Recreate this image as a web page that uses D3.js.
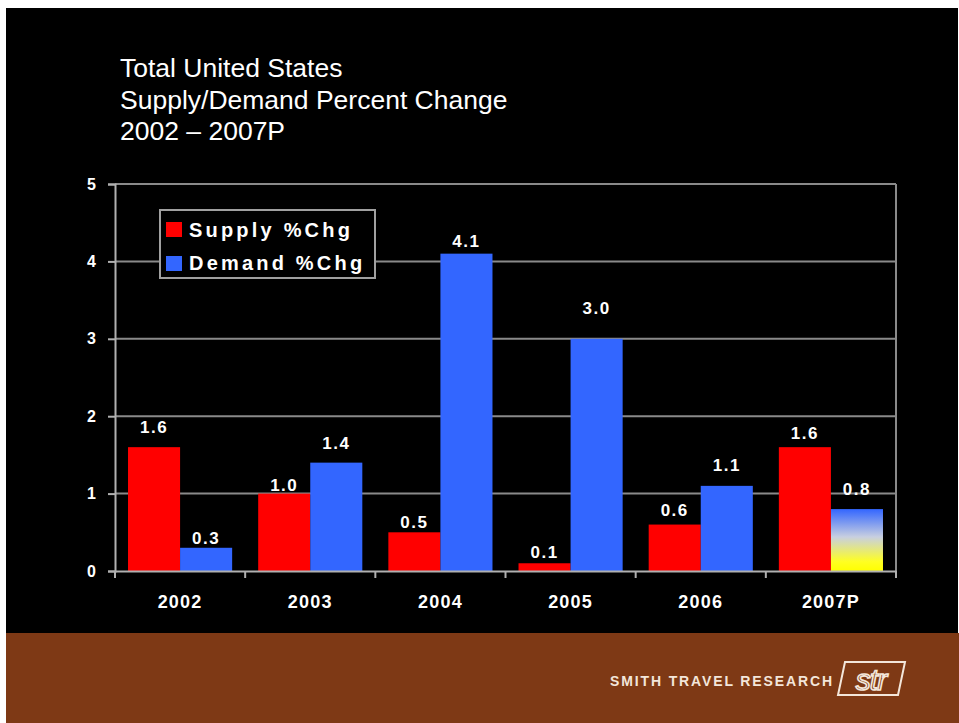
<!DOCTYPE html>
<html>
<head>
<meta charset="utf-8">
<script src="https://cdn.jsdelivr.net/npm/d3@7"></script>
<style>
html,body{margin:0;padding:0;background:#fff;}
svg{display:block;}
text{font-family:"Liberation Sans", Arial, sans-serif;}
</style>
</head>
<body>
<svg id="chart" width="959" height="723"></svg>
<script>
// ---- data ----
const categories = ["2002", "2003", "2004", "2005", "2006", "2007P"];
const supplyValues = [1.6, 1.0, 0.5, 0.1, 0.6, 1.6];
const demandValues = [0.3, 1.4, 4.1, 3.0, 1.1, 0.8];
const seriesNames = ["Supply %Chg", "Demand %Chg"];
const yTicks = [0, 1, 2, 3, 4, 5];
const titleLines = ["Total United States", "Supply/Demand Percent Change", "2002 \u2013 2007P"];

// ---- layout / style ----
const W = 959, H = 723;
const plot = {left: 115, right: 896, top: 184, bottom: 571};
const colors = ["#ff0000", "#3366ff"];
// per-label vertical nudges (px above the bar top, matches hand-placed labels)
const labelGap = [[12, 1, 3, 4, 7, 6], [2, 12, 5, 23, 13, 12]];

const svg = d3.select("#chart");

// backgrounds
svg.append("rect").attr("x", 6).attr("y", 8).attr("width", W - 7).attr("height", 625).attr("fill", "#000");
svg.append("rect").attr("x", 6).attr("y", 633).attr("width", W - 6).attr("height", H - 633).attr("fill", "#7e3915");

// gradient for projected bar
const defs = svg.append("defs");
const grad = defs.append("linearGradient").attr("id", "projGrad").attr("x1", 0).attr("y1", 0).attr("x2", 0).attr("y2", 1);
grad.append("stop").attr("offset", "0%").attr("stop-color", "#3366ff");
grad.append("stop").attr("offset", "45%").attr("stop-color", "#c8cfe0");
grad.append("stop").attr("offset", "85%").attr("stop-color", "#ffff22");
grad.append("stop").attr("offset", "100%").attr("stop-color", "#ffff00");

// title
const title = svg.append("g");
titleLines.forEach((t, i) => {
  title.append("text").attr("x", 120).attr("y", 77 + i * 31.5)
    .attr("fill", "#ffffff").attr("font-size", 26.5).text(t);
});

// scales
const x = d3.scaleBand().domain(categories).range([plot.left, plot.right]).paddingInner(0).paddingOuter(0);
const x1 = d3.scaleBand().domain([0, 1]).range([0, x.bandwidth()]).paddingOuter(0.25).paddingInner(0);
const y = d3.scaleLinear().domain([0, 5]).range([plot.bottom, plot.top]);

// gridlines
svg.append("g").selectAll("line").data(yTicks.filter(d => d > 0)).join("line")
  .attr("x1", plot.left).attr("x2", plot.right)
  .attr("y1", d => y(d)).attr("y2", d => y(d))
  .attr("stroke", "#8a8a8a").attr("stroke-width", 2);
// right border
svg.append("line").attr("x1", plot.right).attr("x2", plot.right).attr("y1", plot.top).attr("y2", plot.bottom)
  .attr("stroke", "#8a8a8a").attr("stroke-width", 2);

// bars
const groups = svg.append("g").selectAll("g").data(categories).join("g")
  .attr("transform", d => `translate(${x(d)},0)`);
groups.each(function(cat, ci) {
  const g = d3.select(this);
  const vals = [supplyValues[ci], demandValues[ci]];
  vals.forEach((v, si) => {
    const projected = cat.endsWith("P") && si === 1;
    g.append("rect")
      .attr("x", x1(si)).attr("width", x1.bandwidth())
      .attr("y", y(v)).attr("height", y(0) - y(v))
      .attr("fill", projected ? "url(#projGrad)" : colors[si]);
    g.append("text")
      .attr("x", x1(si) + x1.bandwidth() / 2)
      .attr("y", y(v) - labelGap[si][ci])
      .attr("dy", "-0.1em")
      .attr("text-anchor", "middle").attr("fill", "#ffffff")
      .attr("font-size", 17).attr("font-weight", "bold").attr("letter-spacing", 1.5)
      .text(d3.format(".1f")(v));
  });
});

// y axis
const yAxis = svg.append("g").attr("transform", `translate(${plot.left},0)`)
  .call(d3.axisLeft(y).tickValues(yTicks).tickSize(7).tickPadding(12).tickFormat(d3.format("d")));
yAxis.select(".domain").attr("stroke", "#b0b0b0").attr("stroke-width", 2);
yAxis.selectAll(".tick line").attr("stroke", "#b0b0b0").attr("stroke-width", 2);
yAxis.selectAll(".tick text").attr("fill", "#ffffff").attr("font-size", 16).attr("font-weight", "bold")
  .attr("font-family", "Liberation Sans, Arial, sans-serif");

// x axis
const xAxis = svg.append("g").attr("transform", `translate(0,${plot.bottom})`)
  .call(d3.axisBottom(x).tickSize(0).tickPadding(24));
xAxis.select(".domain").attr("stroke", "#b0b0b0").attr("stroke-width", 2);
xAxis.selectAll(".tick text").attr("fill", "#ffffff").attr("font-size", 18).attr("font-weight", "bold")
  .attr("letter-spacing", 1.2)
  .attr("font-family", "Liberation Sans, Arial, sans-serif");
// category separator ticks
svg.append("g").selectAll("line").data(categories.concat(["end"])).join("line")
  .attr("x1", (d, i) => i < categories.length ? x(d) : plot.right)
  .attr("x2", (d, i) => i < categories.length ? x(d) : plot.right)
  .attr("y1", plot.bottom).attr("y2", plot.bottom + 7)
  .attr("stroke", "#b0b0b0").attr("stroke-width", 2);

// legend
const legend = svg.append("g").attr("transform", "translate(160,210)");
legend.append("rect").attr("width", 215).attr("height", 68).attr("fill", "#000")
  .attr("stroke", "#a0a0a0").attr("stroke-width", 2);
seriesNames.forEach((name, i) => {
  legend.append("rect").attr("x", 6).attr("y", 12 + i * 34).attr("width", 16).attr("height", 15).attr("fill", colors[i]);
  legend.append("text").attr("x", 29).attr("y", 27 + i * 33)
    .attr("fill", "#ffffff").attr("font-size", 20).attr("font-weight", "bold")
    .attr("letter-spacing", 3.2).text(name);
});

// footer logo
const logo = svg.append("g");
logo.append("text").attr("x", 610).attr("y", 686)
  .attr("fill", "#f3e6da").attr("font-size", 14).attr("font-weight", "bold")
  .attr("font-family", "Liberation Sans, Arial, sans-serif")
  .attr("textLength", 222).attr("lengthAdjust", "spacing")
  .text("SMITH TRAVEL RESEARCH");
logo.append("path")
  .attr("d", "M845,662 L905,662 L898,695 L838,695 Z")
  .attr("fill", "none").attr("stroke", "#f3e6da").attr("stroke-width", 2);
logo.append("text").attr("x", 871).attr("y", 690).attr("text-anchor", "middle")
  .attr("fill", "none").attr("stroke", "#f3e6da").attr("stroke-width", 1.6)
  .attr("font-size", 30).attr("font-style", "italic")
  .attr("font-family", "Liberation Sans, Arial, sans-serif")
  .attr("letter-spacing", -1).text("str");
</script>
</body>
</html>
